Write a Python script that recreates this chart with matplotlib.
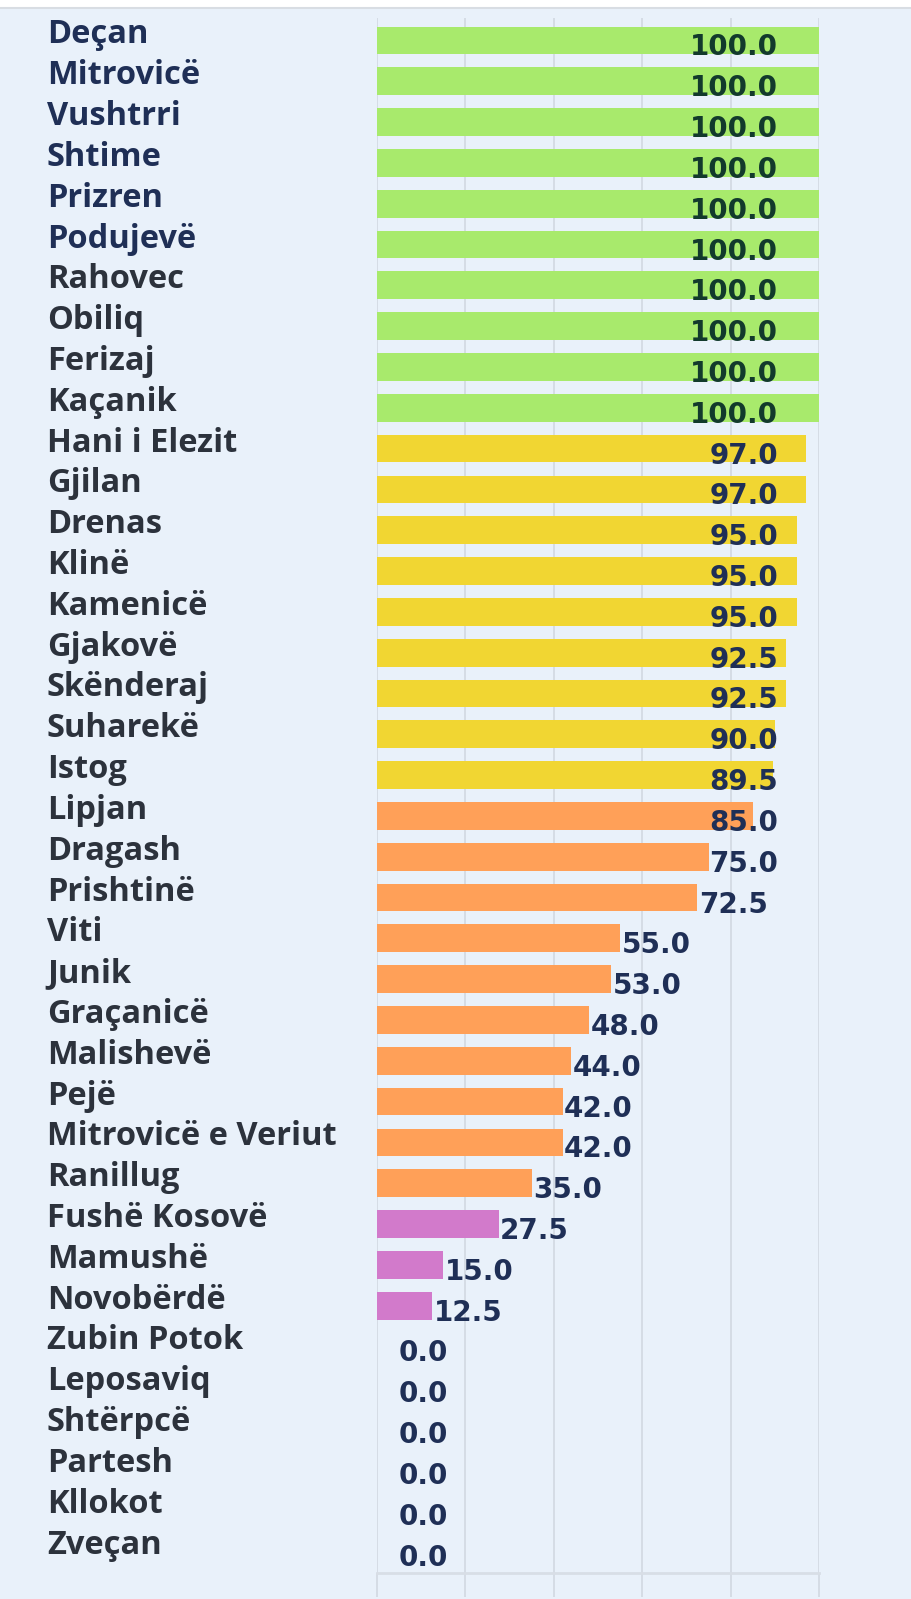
import matplotlib
matplotlib.use("Agg")
import matplotlib.pyplot as plt
import matplotlib.transforms as mtransforms
import numpy as np

# data
municipalities = [
    "Deçan", "Mitrovicë", "Vushtrri", "Shtime", "Prizren", "Podujevë",
    "Rahovec", "Obiliq", "Ferizaj", "Kaçanik", "Hani i Elezit", "Gjilan",
    "Drenas", "Klinë", "Kamenicë", "Gjakovë", "Skënderaj", "Suharekë",
    "Istog", "Lipjan", "Dragash", "Prishtinë", "Viti", "Junik",
    "Graçanicë", "Malishevë", "Pejë", "Mitrovicë e Veriut", "Ranillug",
    "Fushë Kosovë", "Mamushë", "Novobërdë", "Zubin Potok", "Leposaviq",
    "Shtërpcë", "Partesh", "Kllokot", "Zveçan",
]
scores = [
    100.0, 100.0, 100.0, 100.0, 100.0, 100.0, 100.0, 100.0, 100.0, 100.0,
    97.0, 97.0, 95.0, 95.0, 95.0, 92.5, 92.5, 90.0, 89.5,
    85.0, 75.0, 72.5, 55.0, 53.0, 48.0, 44.0, 42.0, 42.0, 35.0,
    27.5, 15.0, 12.5, 0.0, 0.0, 0.0, 0.0, 0.0, 0.0,
]
grid_ticks = [0, 20, 40, 60, 80, 100]

BG = "#e9f1fa"
GRID = "#d3dae3"
NAVY = "#1f2f56"
GRAY = "#2c323c"


def bar_color(v):
    if v >= 100:
        return "#a8ea6c"
    if v >= 86:
        return "#f1d632"
    if v >= 30:
        return "#ffa058"
    return "#d27acb"


fig = plt.figure(figsize=(9.11, 15.99), dpi=100, facecolor=BG)
# white strip at the very top with a thin border line
fig.patches.append(plt.Rectangle((0, 1 - 7 / 1599), 1, 7 / 1599, transform=fig.transFigure,
                                 facecolor="white", edgecolor="none"))
fig.lines.append(plt.Line2D([0, 1], [1 - 8 / 1599] * 2, transform=fig.transFigure,
                            color="#d8dde3", lw=1.5))

ax = fig.add_axes([377 / 911, 1 - 1573 / 1599, 442 / 911, (1573 - 18) / 1599])
ax.set_facecolor(BG)

y = np.arange(len(municipalities))
colors = [bar_color(v) for v in scores]
ax.barh(y, scores, height=0.68, color=colors, zorder=2)

ax.set_xlim(0, 100)
ax.set_ylim(len(municipalities) - 1 + 0.55, -0.55)
ax.set_xticks(grid_ticks)
ax.set_xticklabels([])
ax.set_yticks([])
ax.grid(axis="x", color=GRID, lw=1.3, zorder=0)
ax.tick_params(axis="x", length=17, width=1.3, color=GRID, direction="out")
for s in ["top", "right", "left"]:
    ax.spines[s].set_visible(False)
ax.spines["bottom"].set_color("#d8dee6")
ax.spines["bottom"].set_linewidth(2)

# municipality names on the left
name_tr = mtransforms.blended_transform_factory(fig.transFigure, ax.transData) + \
    mtransforms.ScaledTranslation(0, -3 / 100, fig.dpi_scale_trans)
for i, name in enumerate(municipalities):
    c = NAVY if i < 6 else GRAY
    fig.text(47 / 911, i, name, transform=name_tr, ha="left", va="baseline",
             fontsize=23.5, fontweight="bold", color=c, family=["Open Sans", "DejaVu Sans"])

# value labels
val_tr = ax.transData + mtransforms.ScaledTranslation(0, -15 / 100, fig.dpi_scale_trans)
fig.canvas.draw()
renderer = fig.canvas.get_renderer()
inv = ax.transData.inverted()
limit = 90.8
for i, v in enumerate(scores):
    tc = "#123a2c" if v >= 100 else NAVY
    x0 = max(v + 0.3, 4.8)
    t = ax.text(x0, i, f"{v:.1f}", transform=val_tr, ha="left", va="baseline",
                fontsize=20, fontweight="bold", color=tc, zorder=3,
                family=["DejaVu Sans"])
    bb = t.get_window_extent(renderer)
    right = inv.transform((bb.x1, bb.y0))[0]
    if right > limit:
        t.set_x(limit)
        t.set_ha("right")

fig.savefig("out.png", dpi=100, facecolor=BG)
